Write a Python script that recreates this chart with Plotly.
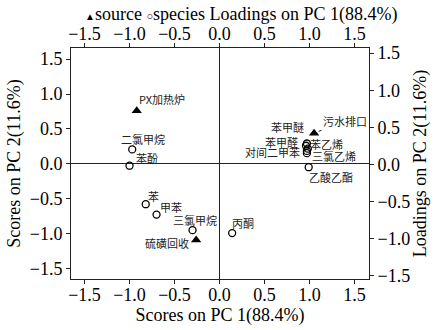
import plotly.graph_objects as go

# ---- data ----
source_names = ["PX加热炉", "硫磺回收", "污水排口"]
source_x = [-0.92, -0.26, 1.05]          # scores on PC1
source_y = [0.76, -1.09, 0.44]           # scores on PC2

species_names = ["二氯甲烷", "苯酚", "苯", "甲苯", "三氯甲烷", "丙酮",
                 "苯甲醚", "苯甲醛", "苯乙烯", "对间二甲苯", "三氯乙烯", "乙酸乙酯"]
species_x = [-0.97, -1.00, -0.82, -0.70, -0.30, 0.14,
             0.97, 0.96, 0.98, 0.97, 0.97, 0.99]     # loadings on PC1
species_y = [0.20, -0.02, -0.54, -0.68, -0.89, -0.93,
             0.28, 0.25, 0.21, 0.18, 0.15, -0.04]    # loadings on PC2

tick_vals = [-1.5, -1.0, -0.5, 0.0, 0.5, 1.0, 1.5]
tick_text = ["\u22121.5", "\u22121.0", "\u22120.5", "0.0", "0.5", "1.0", "1.5"]

# label offsets in pixels (dx, dy up)
source_off = {"PX加热炉": (25, 12), "硫磺回收": (-29, -3), "污水排口": (29, 12)}
species_off = {"二氯甲烷": (11, 10), "苯酚": (17, 8), "苯": (8, 8), "甲苯": (14, 8),
               "三氯甲烷": (2, 10), "丙酮": (11, 10), "苯甲醚": (-19, 17),
               "苯甲醛": (-24, 4), "苯乙烯": (19, 5), "对间二甲苯": (-34, -1),
               "三氯乙烯": (27, -3), "乙酸乙酯": (22, -10)}

SERIF = "Liberation Serif"
CJK = "Noto Sans CJK SC"
INK = "#222222"
FS = 18

fig = go.Figure()
fig.add_trace(go.Scatter(x=source_x, y=source_y, mode="markers", name="source",
                         xaxis="x", yaxis="y",
                         marker=dict(symbol="triangle-up", size=9, color="black"),
                         showlegend=False))
fig.add_trace(go.Scatter(x=species_x, y=species_y, mode="markers", name="species",
                         xaxis="x2", yaxis="y2",
                         marker=dict(symbol="circle-open", size=7, color="black",
                                     line=dict(width=1.3, color="black")),
                         showlegend=False))

ann = []
for n, x, y in zip(source_names, source_x, source_y):
    dx, dy = source_off[n]
    if n == "污水排口":
        ann.append(dict(x=x, y=y, xref="x", yref="y", text=n, showarrow=True,
                        ax=dx + 2, ay=-dy, arrowhead=0, arrowwidth=1, arrowcolor=INK,
                        standoff=5, font=dict(family=CJK, size=11, color=INK)))
    else:
        ann.append(dict(x=x, y=y, xref="x", yref="y", text=n, showarrow=False,
                        xshift=dx, yshift=dy, font=dict(family=CJK, size=11, color=INK)))
for n, x, y in zip(species_names, species_x, species_y):
    dx, dy = species_off[n]
    ann.append(dict(x=x, y=y, xref="x2", yref="y2", text=n, showarrow=False,
                    xshift=dx, yshift=dy, font=dict(family=CJK, size=11, color=INK)))

ann.append(dict(xref="paper", yref="paper", x=0.04, y=1.143, xanchor="left", yanchor="middle",
                showarrow=False,
                text='<span style="font-size:10px">\u25b2</span>source '
                     '<span style="font-size:11px">\u25cb</span>species '
                     'Loadings on PC 1(88.4%)',
                font=dict(family=SERIF, size=FS, color="black")))

axis_common = dict(tickvals=tick_vals, ticktext=tick_text, ticks="outside", ticklen=4,
                   tickcolor=INK, showline=True, linecolor=INK, linewidth=1,
                   showgrid=False, automargin=False,
                   tickfont=dict(family=SERIF, size=FS, color="black"))

fig.update_layout(
    width=434, height=330,
    margin=dict(l=71, r=65, t=48, b=51),
    paper_bgcolor="white", plot_bgcolor="white",
    showlegend=False,
    xaxis=dict(range=[-1.65, 1.66], zeroline=True, zerolinecolor=INK, zerolinewidth=1,
               ticklabelstandoff=-5,
               title=dict(text="Scores on PC 1(88.4%)", standoff=1,
                          font=dict(family=SERIF, size=FS, color="black")),
               **axis_common),
    yaxis=dict(range=[-1.65, 1.66], zeroline=True, zerolinecolor=INK, zerolinewidth=1,
               title=dict(text="Scores on PC 2(11.6%)", standoff=4,
                          font=dict(family=SERIF, size=FS, color="black")),
               **axis_common),
    xaxis2=dict(range=[-1.65, 1.66], overlaying="x", side="top", zeroline=False,
                ticklabelstandoff=-4, **axis_common),
    yaxis2=dict(range=[-1.55, 1.57], overlaying="y", side="right", zeroline=False,
                title=dict(text="Loadings on PC 2(11.6%)", standoff=4,
                           font=dict(family=SERIF, size=FS, color="black")),
                **axis_common),
    annotations=ann,
)

fig.write_html("out.html", config={"displayModeBar": False},
               post_script="document.body.style.margin='0';")
